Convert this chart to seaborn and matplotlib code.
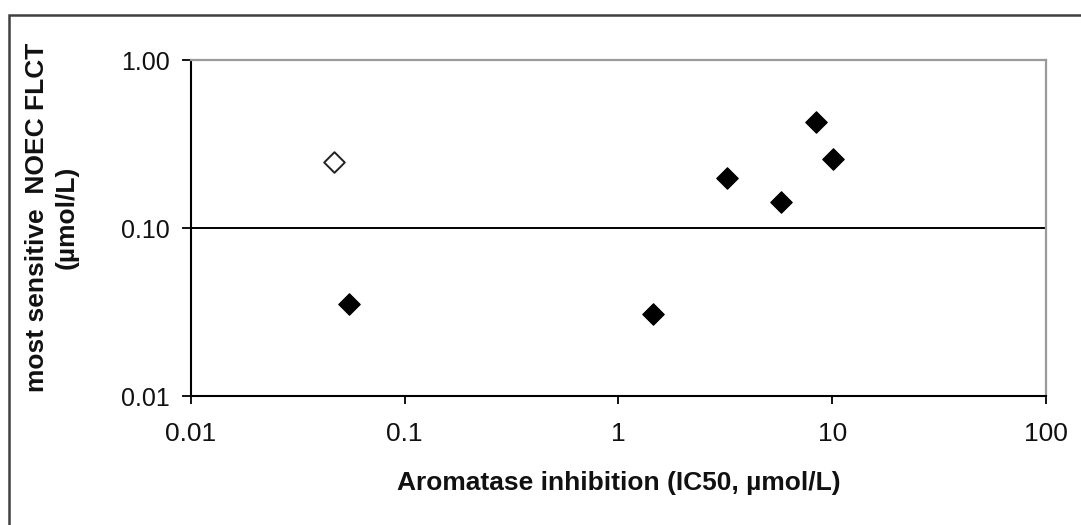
import matplotlib
matplotlib.use("Agg")
import matplotlib.pyplot as plt
from matplotlib.patches import Rectangle
from matplotlib.ticker import FixedLocator, FixedFormatter, NullLocator
import seaborn as sns
import pandas as pd

# Aromatase inhibition (IC50) vs. most sensitive NOEC in the FLCT, µmol/L
ic50_filled = [0.0552, 1.45, 3.24, 5.79, 8.41, 10.07]
noec_filled = [0.0353, 0.0306, 0.199, 0.142, 0.430, 0.258]
ic50_open = [0.047]
noec_open = [0.248]

x_ticks = [0.01, 0.1, 1, 10, 100]
x_tick_labels = ["0.01", "0.1", "1", "10", "100"]
y_ticks = [0.01, 0.1, 1.0]
y_tick_labels = ["0.01", "0.10", "1.00"]

x_title = "Aromatase inhibition (IC50, µmol/L)"
y_title = "most sensitive  NOEC FLCT\n(µmol/L)"

sns.set_theme(style="white")
plt.rcParams["font.family"] = ["Liberation Sans", "DejaVu Sans"]

filled = pd.DataFrame({"ic50": ic50_filled, "noec": noec_filled})
hollow = pd.DataFrame({"ic50": ic50_open, "noec": noec_open})

fig = plt.figure(figsize=(10.81, 5.25), dpi=100)
fig.patch.set_facecolor("white")
ax = fig.add_axes([0.1764, 0.2457, 0.7912, 0.64])

sns.scatterplot(data=filled, x="ic50", y="noec", ax=ax, marker="D", s=120,
                color="black", edgecolor="black", linewidth=0.8, zorder=3)
sns.scatterplot(data=hollow, x="ic50", y="noec", ax=ax, marker="D", s=110,
                facecolor="white", edgecolor="#222222", linewidth=1.4, zorder=3)

ax.set_xscale("log")
ax.set_yscale("log")
ax.set_xlim(x_ticks[0], x_ticks[-1])
ax.set_ylim(y_ticks[0], y_ticks[-1])

ax.xaxis.set_major_locator(FixedLocator(x_ticks))
ax.xaxis.set_major_formatter(FixedFormatter(x_tick_labels))
ax.yaxis.set_major_locator(FixedLocator(y_ticks))
ax.yaxis.set_major_formatter(FixedFormatter(y_tick_labels))
ax.xaxis.set_minor_locator(NullLocator())
ax.yaxis.set_minor_locator(NullLocator())

# horizontal major gridlines, drawn beneath the frame
ax.set_axisbelow(True)
ax.yaxis.grid(True, color="black", linewidth=1.4)
ax.xaxis.grid(False)

for side in ("left", "bottom"):
    ax.spines[side].set_color("black")
    ax.spines[side].set_linewidth(1.5)
for side in ("top", "right"):
    ax.spines[side].set_color("#9a9a9a")
    ax.spines[side].set_linewidth(1.6)

ax.tick_params(axis="x", which="major", direction="out", length=6, width=1.3,
               color="black", labelsize=19, pad=13, bottom=True)
ax.tick_params(axis="y", which="major", direction="out", length=6.5, width=1.3,
               color="black", labelsize=18, pad=8.5, left=True)
for lab in ax.get_xticklabels() + ax.get_yticklabels():
    lab.set_color("#111111")

ax.set_xlabel(x_title, fontsize=19, fontweight="bold", color="#111111")
ax.xaxis.set_label_coords(0.5, -0.223)
ax.set_ylabel(y_title, fontsize=19, fontweight="bold", color="#111111",
              va="center", linespacing=1.3)
ax.yaxis.set_label_coords(-0.162, 0.533)

# outer chart frame, running past the right and bottom edges
fig.patches.append(Rectangle((9 / 1081, -0.1), 1.2, (525 - 15) / 525 + 0.1,
                             transform=fig.transFigure, fill=False,
                             edgecolor="#404040", linewidth=1.8))

fig.savefig("out.png", dpi=100)
